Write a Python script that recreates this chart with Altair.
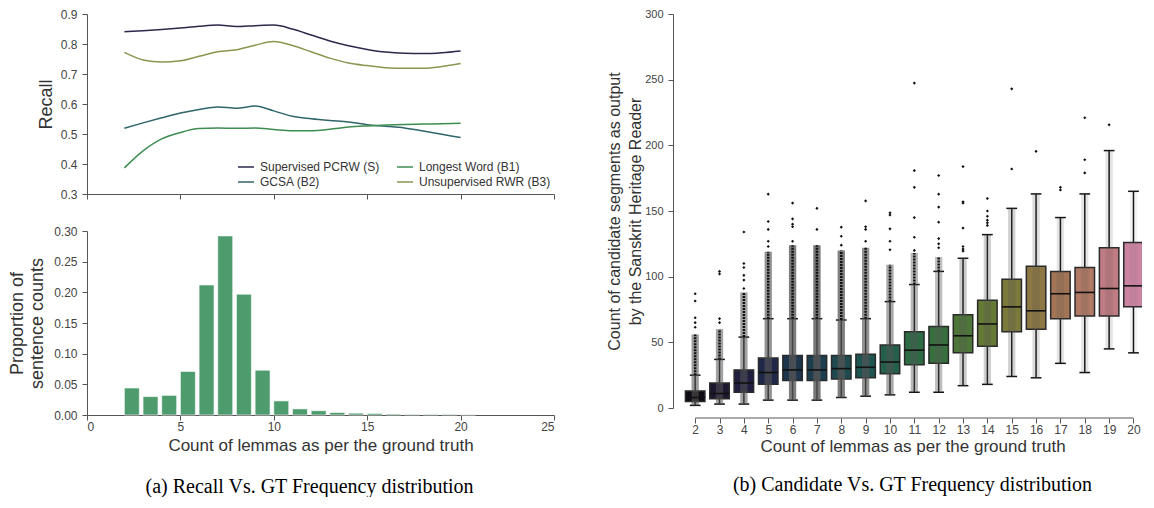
import altair as alt
import pandas as pd

# ---------------- data ----------------
lemma_counts = list(range(2, 21))

recall_pcrw = [0.841, 0.844, 0.848, 0.853, 0.859, 0.863, 0.858, 0.861, 0.863, 0.850,
               0.830, 0.810, 0.794, 0.782, 0.773, 0.769, 0.768, 0.771, 0.777]
recall_rwr = [0.772, 0.747, 0.740, 0.744, 0.759, 0.774, 0.781, 0.796, 0.808, 0.795,
              0.774, 0.753, 0.737, 0.728, 0.721, 0.719, 0.719, 0.725, 0.735]
recall_gcsa = [0.519, 0.537, 0.554, 0.570, 0.582, 0.590, 0.586, 0.593, 0.577, 0.559,
               0.551, 0.545, 0.540, 0.531, 0.526, 0.520, 0.510, 0.499, 0.488]
recall_longest = [0.387, 0.444, 0.484, 0.505, 0.518, 0.520, 0.519, 0.520, 0.515, 0.511,
                  0.511, 0.516, 0.523, 0.527, 0.530, 0.532, 0.533, 0.534, 0.536]

# legend order (filled column by column): S, B2 | B1, B3
method_names = ["Supervised PCRW (S)", "GCSA (B2)", "Longest Word (B1)", "Unsupervised RWR (B3)"]

proportions = [0.044, 0.030, 0.032, 0.071, 0.212, 0.292, 0.197, 0.073, 0.023, 0.010,
               0.007, 0.004, 0.003, 0.0025, 0.0015, 0.001, 0.001, 0.001, 0.0005]

box_q1 = [5, 7, 12, 18, 21, 21, 22, 23, 26, 33, 34, 42, 47, 58, 60, 68, 70, 70, 77]
box_median = [8, 11, 19, 27, 29, 29, 30, 31, 35, 44, 48, 55, 64, 77, 74, 87, 88, 91, 93]
box_q3 = [13, 19, 29, 38, 40, 40, 40, 41, 48, 58, 62, 71, 82, 98, 108, 104, 107, 122, 126]
whisker_low = [2, 3, 3, 6, 6, 6, 8, 9, 10, 12, 12, 17, 18, 24, 23, 34, 27, 45, 42]
whisker_high = [25, 37, 54, 68, 68, 68, 67, 68, 81, 94, 104, 114, 132, 152, 163, 145, 163, 196, 165]
dense_outlier_top = [56, 60, 88, 119, 124, 124, 120, 122, 109, 118, 115, 114, 132, 152, 163, 145, 163, 196, 165]

outlier_lemmas = ([2] * 5 + [3] * 4 + [4] * 6 + [5] * 5 + [6] * 5 + [7] * 2 + [8] * 3 + [9] * 4
                  + [10] * 5 + [11] * 6 + [12] * 7 + [13] * 7 + [14] * 6 + [15] * 2 + [16] * 1
                  + [17] * 2 + [18] * 3 + [19] * 1)
outlier_values = [87, 81.5, 68.7, 65, 61.5,
                  104, 102, 68, 65,
                  134, 110, 107, 101, 97.4, 91,
                  162.8, 142, 136, 127, 123,
                  156, 144, 140, 138, 127,
                  152, 136,
                  137.7, 130.8, 124,
                  157.7, 138, 136, 127,
                  148.7, 147, 136.4, 127, 120.5,
                  247.4, 180.8, 168, 145, 130, 120,
                  177, 162.8, 153, 141.5, 129, 125, 122,
                  183.8, 157, 156, 137, 123, 121, 119.5,
                  159.5, 150, 146, 143, 141, 139,
                  243, 182,
                  195.4,
                  168, 166,
                  221, 189, 179,
                  215.6]

x_ticks_left = [0, 5, 10, 15, 20, 25]
recall_ticks = [0.3, 0.4, 0.5, 0.6, 0.7, 0.8, 0.9]
prop_ticks = [0.0, 0.05, 0.10, 0.15, 0.20, 0.25, 0.30]
count_ticks = [0, 50, 100, 150, 200, 250, 300]

# ---------------- styles ----------------
line_colors = ["#2b2a4c", "#30656a", "#3d8c52", "#8a9650"]
bar_color = "#4e9c6d"
box_palette = ["#0f0b14", "#1e1730", "#1f1e3f", "#1f2848", "#1e364c", "#1d3e4f", "#1f4a50",
               "#1f5550", "#235f4b", "#2c6b44", "#37703e", "#4e7638", "#667a37", "#7b7a3c",
               "#8d7745", "#a27556", "#b07a66", "#c07c83", "#ca84a1"]
SANS = "Liberation Sans"
SERIF = "Liberation Serif"

# ---------------- left panel ----------------
recall_df = pd.concat([
    pd.DataFrame({"lemmas": lemma_counts, "recall": recall_pcrw, "method": "Supervised PCRW (S)"}),
    pd.DataFrame({"lemmas": lemma_counts, "recall": recall_gcsa, "method": "GCSA (B2)"}),
    pd.DataFrame({"lemmas": lemma_counts, "recall": recall_longest, "method": "Longest Word (B1)"}),
    pd.DataFrame({"lemmas": lemma_counts, "recall": recall_rwr, "method": "Unsupervised RWR (B3)"}),
])

x_left_scale = alt.Scale(domain=[0, 25], nice=False, zero=False)

top = alt.Chart(recall_df).mark_line(strokeWidth=1.5, interpolate="monotone").encode(
    x=alt.X("lemmas:Q", scale=x_left_scale,
            axis=alt.Axis(values=x_ticks_left, labels=False, title=None)),
    y=alt.Y("recall:Q", scale=alt.Scale(domain=[0.3, 0.9], nice=False, zero=False),
            axis=alt.Axis(values=recall_ticks, format=".1f", title="Recall",
                          titleFontSize=18, labelFontSize=12, titlePadding=5)),
    color=alt.Color("method:N", scale=alt.Scale(domain=method_names, range=line_colors),
                    legend=alt.Legend(title=None, orient="none", legendX=150, legendY=144,
                                      columns=2, symbolType="stroke", symbolSize=256,
                                      symbolStrokeWidth=1.5, labelFontSize=12, labelFont=SANS,
                                      labelColor="#333", columnPadding=14, rowPadding=0,
                                      labelOffset=5, padding=0)),
).properties(width=467, height=180)

bar_df = pd.DataFrame({"lemmas": lemma_counts, "proportion": proportions})

bottom = alt.Chart(bar_df).transform_calculate(
    right="datum.lemmas + 0.8", zero="0"
).mark_rect(color=bar_color, stroke="white", strokeWidth=0.6).encode(
    x=alt.X("lemmas:Q", scale=x_left_scale,
            axis=alt.Axis(values=x_ticks_left, format="d",
                          title="Count of lemmas as per the ground truth",
                          titleFontSize=17, labelFontSize=12, labelPadding=1, titlePadding=5)),
    x2="right:Q",
    y=alt.Y("proportion:Q", scale=alt.Scale(domain=[0, 0.30], nice=False),
            axis=alt.Axis(values=prop_ticks, format=".2f",
                          title=["Proportion of", "sentence counts"],
                          titleFontSize=18, titleLineHeight=20, labelFontSize=12, titlePadding=7)),
    y2="zero:Q",
).properties(width=467, height=184)

left = alt.vconcat(top, bottom, spacing=25).properties(
    title=alt.TitleParams("(a) Recall Vs. GT Frequency distribution", orient="bottom",
                          anchor="middle", font=SERIF, fontSize=20, fontWeight="normal",
                          color="#000", offset=24, dx=28)
)

# ---------------- right panel ----------------
RIGHT_W, RIGHT_H = 459, 394

box_df = pd.DataFrame({
    "lemmas": lemma_counts, "q1": box_q1, "med": box_median, "q3": box_q3,
    "wlo": whisker_low, "whi": whisker_high, "top": dense_outlier_top,
    "density": proportions,
})
out_df = pd.DataFrame({"lemmas": outlier_lemmas, "value": outlier_values})
axis_df = pd.DataFrame({"a": [min(lemma_counts)], "b": [max(lemma_counts)]})

xs = alt.Scale(domain=[1.5, 20.35], nice=False, zero=False)
ys = alt.Scale(domain=[0, 300], nice=False, zero=False)
xaxis = alt.Axis(values=lemma_counts, format="d", offset=10, domain=False,
                 title="Count of lemmas as per the ground truth", titleFontSize=17,
                 labelFontSize=12, labelPadding=1, titlePadding=3)
yaxis = alt.Axis(values=count_ticks, format="d", offset=10,
                 title=["Count of candidate segments as output", "by the Sanskrit Heritage Reader"],
                 titleFontSize=16, titleLineHeight=21, labelFontSize=11, titlePadding=1)


def X(field):
    return alt.X(field, scale=xs, axis=xaxis)


def Y(field):
    return alt.Y(field, scale=ys, axis=yaxis)


base = alt.Chart(box_df)
edges = dict(a="datum.lemmas - 0.4", b="datum.lemmas + 0.4")

whiskers = base.mark_rule(color="#111", strokeWidth=1.5).encode(
    x=X("lemmas:Q"), y=Y("wlo:Q"), y2="whi:Q")
caps_lo = base.transform_calculate(a="datum.lemmas - 0.22", b="datum.lemmas + 0.22").mark_rule(
    color="#111", strokeWidth=1.5).encode(x=X("a:Q"), x2="b:Q", y=Y("wlo:Q"))
caps_hi = base.transform_calculate(a="datum.lemmas - 0.22", b="datum.lemmas + 0.22").mark_rule(
    color="#111", strokeWidth=1.5).encode(x=X("a:Q"), x2="b:Q", y=Y("whi:Q"))
boxes = base.transform_calculate(**edges).mark_rect(stroke="#2a2a2a", strokeWidth=1.5, clip=True).encode(
    x=X("a:Q"), x2="b:Q", y=Y("q1:Q"), y2="q3:Q",
    fill=alt.Fill("lemmas:O", scale=alt.Scale(domain=lemma_counts, range=box_palette), legend=None))
strip = base.transform_calculate(a="datum.lemmas - 0.15", b="datum.lemmas + 0.15").mark_rect(
    color="#555555", clip=True).encode(
    x=X("a:Q"), x2="b:Q", y=Y("wlo:Q"), y2="top:Q",
    opacity=alt.Opacity("density:Q", scale=alt.Scale(type="log", domain=[0.0005, 0.3],
                                                     range=[0.08, 0.8]), legend=None))
column = base.transform_filter("datum.top > datum.whi").mark_rule(
    color="#111", strokeWidth=2.5, strokeDash=[2, 1]).encode(x=X("lemmas:Q"), y=Y("whi:Q"), y2="top:Q")
medians = base.transform_calculate(**edges).mark_rule(color="#111", strokeWidth=1.6, clip=True).encode(
    x=X("a:Q"), x2="b:Q", y=Y("med:Q"))
outliers = alt.Chart(out_df).mark_point(shape="diamond", filled=True, size=10, color="#111",
                                        opacity=1).encode(x=X("lemmas:Q"), y=Y("value:Q"))
axis_line = alt.Chart(axis_df).mark_rule(color="#555", strokeWidth=1).encode(
    x=X("a:Q"), x2="b:Q", y=alt.value(RIGHT_H + 10))

right = alt.layer(whiskers, caps_lo, caps_hi, boxes, strip, column, medians, outliers, axis_line).properties(
    width=RIGHT_W, height=RIGHT_H,
    title=alt.TitleParams("(b) Candidate Vs. GT Frequency distribution", orient="bottom",
                          anchor="middle", font=SERIF, fontSize=20, fontWeight="normal",
                          color="#000", offset=21)
)

chart = alt.hconcat(left, right, spacing=51).resolve_scale(
    color="independent", fill="independent", opacity="independent"
).properties(
    padding={"left": 0, "top": 0, "right": 0, "bottom": 0}
).configure_view(stroke=None).configure_axis(
    grid=False, domainColor="#555", tickColor="#555", labelColor="#444", titleColor="#333",
    labelFont=SANS, titleFont=SANS, titleFontWeight="normal", tickSize=5, labelPadding=5,
    domainWidth=1, tickWidth=1
)

chart.save("out.html", embed_options={"renderer": "svg", "actions": False})
